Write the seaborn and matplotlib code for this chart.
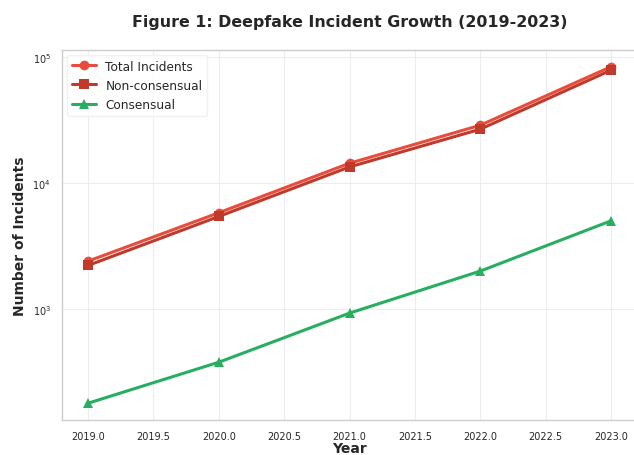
import matplotlib
matplotlib.use("Agg")
import matplotlib.pyplot as plt
import seaborn as sns
import pandas as pd

years = [2019.0, 2020.0, 2021.0, 2022.0, 2023.0]
total_incidents = [2400, 5800, 14300, 28600, 83000]
non_consensual = [2220, 5420, 13370, 26600, 78000]
consensual = [180, 380, 930, 2000, 5000]

series_names = ["Total Incidents", "Non-consensual", "Consensual"]
series_values = [total_incidents, non_consensual, consensual]
colors = ["#e74c3c", "#c0392b", "#27ae60"]
markers = ["o", "s", "^"]

sns.set_theme(style="whitegrid")
plt.rcParams["font.family"] = ["DejaVu Sans"]

fig = plt.figure(figsize=(6.34, 4.56), dpi=100)
ax = fig.add_axes([62 / 634, 1 - 421 / 456, (637 - 62) / 634, (421 - 51) / 456])

for name, vals, c, m in zip(series_names, series_values, colors, markers):
    df = pd.DataFrame({"Year": years, "Incidents": vals})
    sns.lineplot(data=df, x="Year", y="Incidents", ax=ax, color=c, marker=m,
                 markersize=7, linewidth=2.2, markeredgewidth=0, label=name)

ax.set_yscale("log")
ax.set_xlabel("Year", fontsize=10, fontweight="bold", labelpad=0)
ax.set_ylabel("Number of Incidents", fontsize=10, fontweight="bold", labelpad=4)
ax.tick_params(axis="both", labelsize=7, pad=2)
ax.grid(True, which="major", color="#e6e6e6", linewidth=0.8, alpha=0.7)
for s in ax.spines.values():
    s.set_color("#cccccc")
    s.set_linewidth(1.0)
leg = ax.legend(loc="upper left", fontsize=8.7, frameon=True, borderaxespad=0.4)
leg.get_frame().set_edgecolor("#eeeeee")
fig.suptitle("Figure 1: Deepfake Incident Growth (2019-2023)", fontsize=11.4,
             fontweight="bold", x=(133 + 567) / 2 / 634, y=1 - 23 / 456, va="center")

fig.savefig("out.png", dpi=100)
